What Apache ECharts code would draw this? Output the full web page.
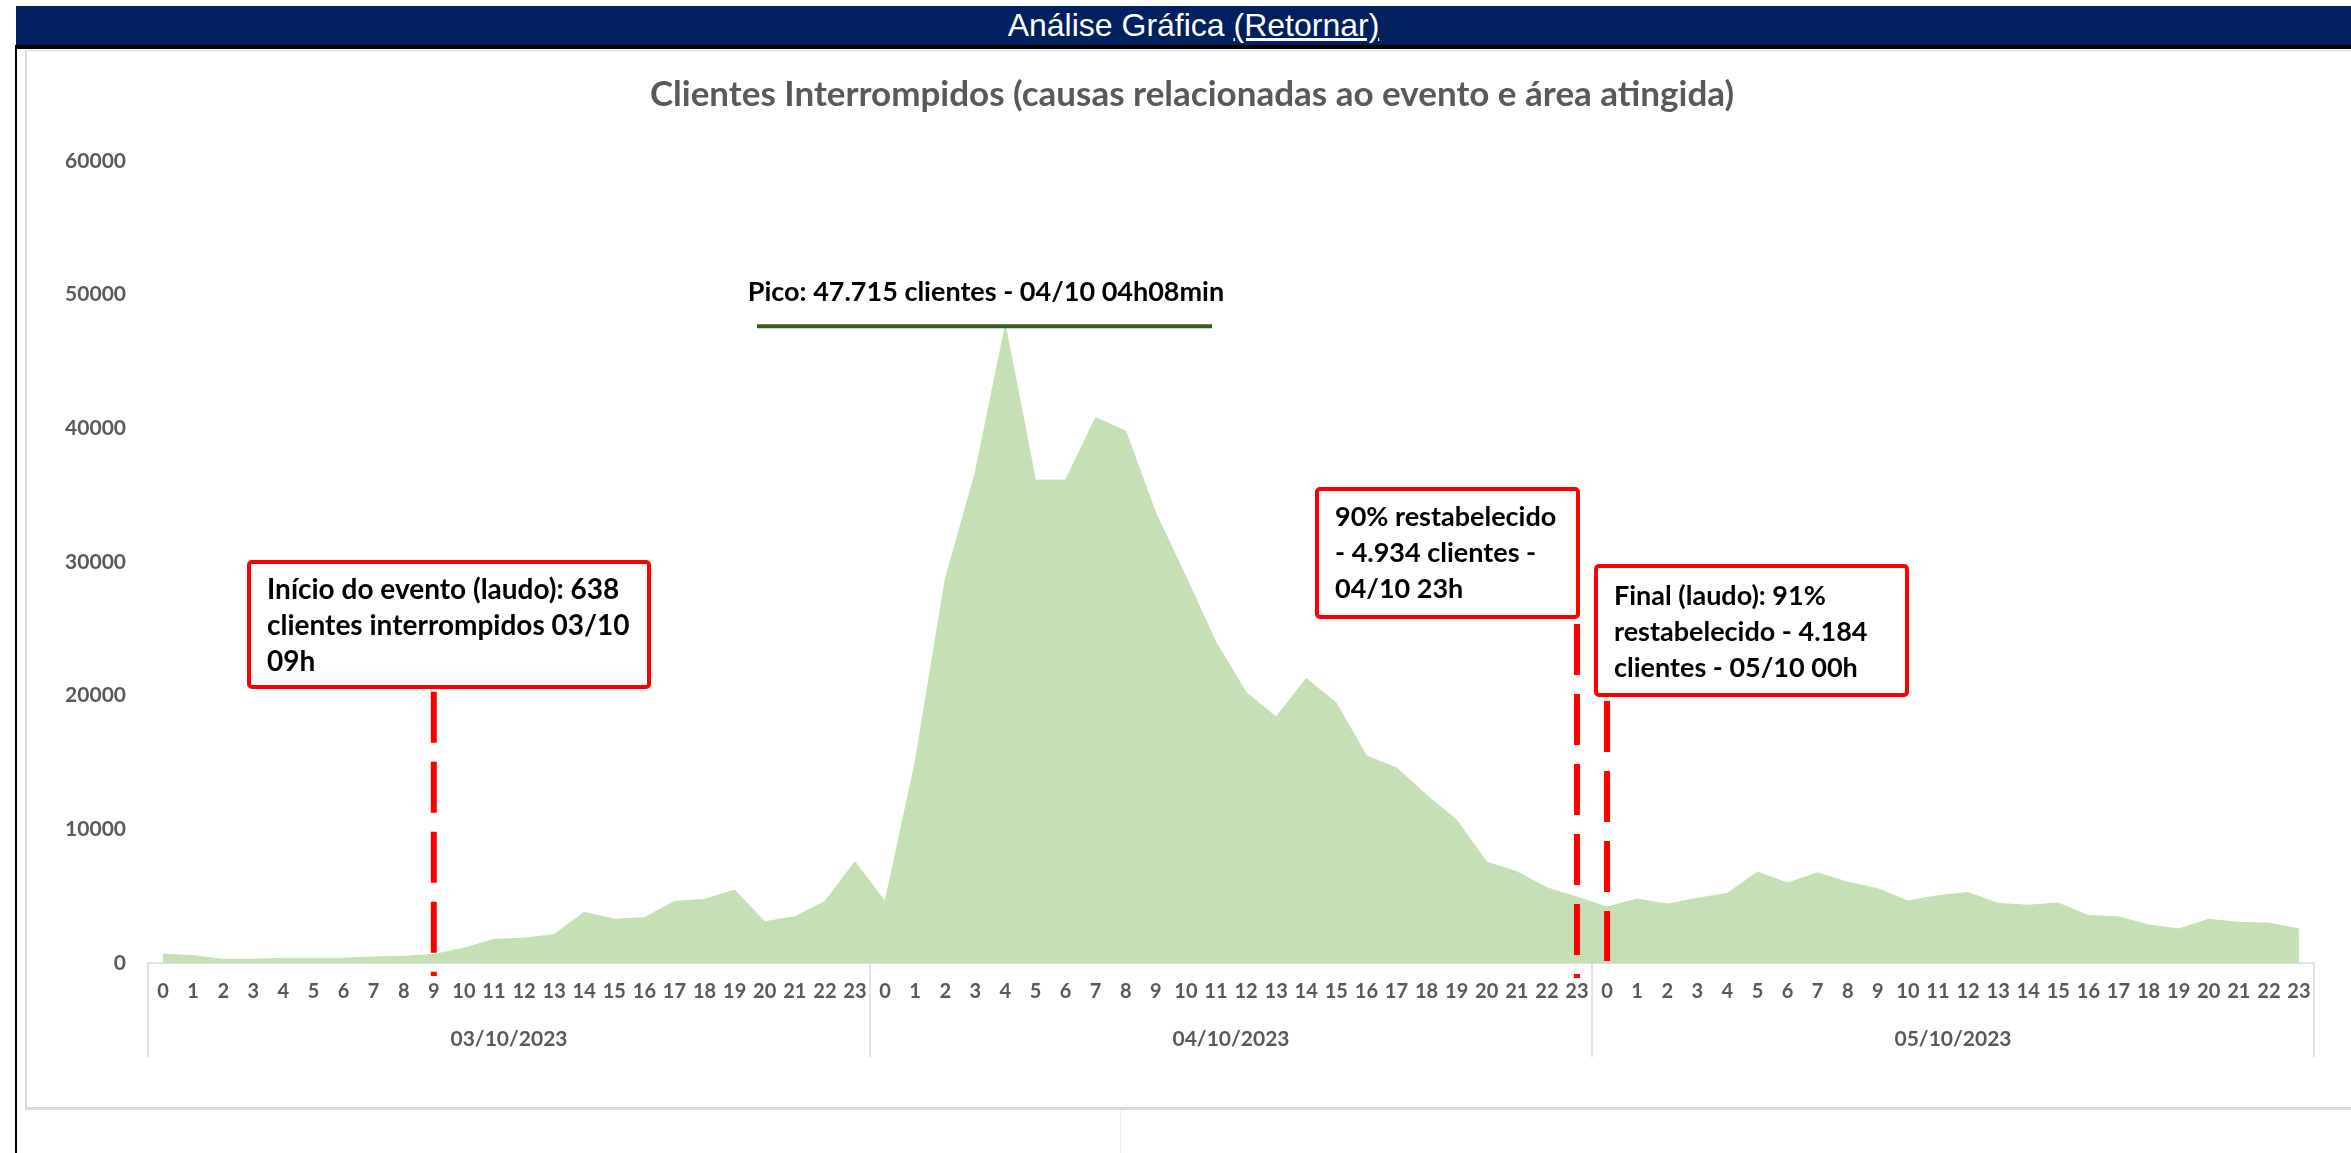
<!DOCTYPE html>
<html>
<head>
<meta charset="utf-8">
<script src="https://cdn.jsdelivr.net/npm/echarts@6/dist/echarts.min.js"></script>
<style>
html,body{margin:0;padding:0;width:2351px;height:1153px;overflow:hidden;background:#fff;}
#header{position:absolute;left:16px;top:6px;width:2335px;height:39px;background:#002060;color:#fff;
  font-family:"Liberation Sans",Arial,sans-serif;font-size:32px;line-height:39px;text-align:center;
  box-sizing:border-box;padding-left:20px;white-space:nowrap;}
#blackTop{position:absolute;left:15px;top:45px;width:2336px;height:4px;background:#000;}
#blackLeft{position:absolute;left:15px;top:45px;width:2px;height:1108px;background:#000;}
#panel{position:absolute;left:25px;top:50px;width:2340px;height:1056px;border-left:2px solid #d9d9d9;
  border-top:1px solid #d9d9d9;border-bottom:3px solid #d9d9d9;}
#faint{position:absolute;left:1120px;top:1110px;width:1px;height:43px;background:#eeeeee;}
#chart{position:absolute;left:0;top:0;width:2351px;height:1153px;}
</style>
</head>
<body>
<div id="header">Análise Gráfica <u>(Retornar)</u></div>
<div id="blackTop"></div>
<div id="blackLeft"></div>
<div id="panel"></div>
<div id="faint"></div>
<div id="chart"></div>
<script>
// ---- data ----
const hours = ['0','1','2','3','4','5','6','7','8','9','10','11','12','13','14','15','16','17','18','19','20','21','22','23'];
const dates = ['03/10/2023', '04/10/2023', '05/10/2023'];
const day1 = [670, 545, 275, 275, 350, 350, 350, 450, 500, 638, 1100, 1770, 1845, 2140, 3790, 3270, 3390, 4610, 4760, 5460, 3090, 3460, 4600, 7580];
const day2 = [4590, 15000, 28700, 36700, 47715, 36130, 36130, 40800, 39800, 33660, 28900, 24000, 20250, 18400, 21280, 19450, 15500, 14600, 12570, 10700, 7550, 6830, 5630, 4934];
const day3 = [4184, 4790, 4410, 4840, 5210, 6800, 5980, 6750, 6040, 5560, 4640, 5040, 5270, 4460, 4320, 4490, 3550, 3460, 2840, 2550, 3270, 3040, 2980, 2550];
const yMin = 0, yMax = 60000, yStep = 10000;
const peakValue = 47715;

const categories = [];
dates.forEach(d => hours.forEach(h => categories.push(d + '|' + h)));
const values = day1.concat(day2, day3);

const FONT = 'Lato, "Noto Sans", sans-serif';
const chart = echarts.init(document.getElementById('chart'), null, {renderer: 'canvas'});

const option = {
  animation: false,
  backgroundColor: 'transparent',
  textStyle: {fontFamily: FONT},
  grid: {left: 148, right: 37, top: 161, bottom: 190, containLabel: false, outerBoundsMode: 'none'},
  xAxis: [
    {
      type: 'category', data: categories, boundaryGap: true, position: 'bottom', offset: 0,
      axisLine: {show: true, lineStyle: {color: '#d9d9d9', width: 1.5}},
      axisTick: {show: false},
      splitLine: {show: false},
      axisLabel: {
        interval: 0, margin: 19, color: '#595959', fontWeight: 'bold', fontSize: 20, fontFamily: FONT,
        formatter: v => v.split('|')[1]
      }
    },
    {
      type: 'category', data: dates, boundaryGap: true, position: 'bottom', offset: 0,
      axisLine: {show: false},
      axisTick: {show: true, interval: 0, length: 94, lineStyle: {color: '#d9d9d9', width: 1.5}},
      splitLine: {show: false},
      axisLabel: {interval: 0, margin: 66, color: '#595959', fontWeight: 'bold', fontSize: 21, fontFamily: FONT}
    }
  ],
  yAxis: {
    type: 'value', min: yMin, max: yMax, interval: yStep,
    axisLine: {show: false}, axisTick: {show: false}, splitLine: {show: false},
    axisLabel: {margin: 22, color: '#595959', fontWeight: 'bold', fontSize: 21, fontFamily: FONT,
                formatter: v => String(v)}
  },
  series: [{
    type: 'line', xAxisIndex: 0, yAxisIndex: 0, data: values,
    symbol: 'none', showSymbol: false,
    lineStyle: {color: '#C5E0B4', width: 1},
    areaStyle: {color: '#C5E0B4', opacity: 1},
    emphasis: {disabled: true}
  }]
};
chart.setOption(option);

const peakY = chart.convertToPixel({yAxisIndex: 0}, peakValue);

// dashed red marker lines, placed through the axes
function dashed(cat, vTop, vBottom) {
  const p1 = chart.convertToPixel({xAxisIndex: 0, yAxisIndex: 0}, [cat, vTop]);
  const p2 = chart.convertToPixel({xAxisIndex: 0, yAxisIndex: 0}, [cat, vBottom]);
  return {type: 'line', z: 90, silent: true,
          shape: {x1: p1[0], y1: p1[1], x2: p2[0], y2: p2[1]},
          style: {stroke: '#FF0000', lineWidth: 6, lineDash: [51, 19], lineCap: 'butt'}};
}

function box(x, y, w, h, lines, tx, ty, fs) {
  return [
    {type: 'rect', z: 100, shape: {x: x, y: y, width: w, height: h, r: 3},
     style: {fill: '#fff', stroke: '#FF0000', lineWidth: 4}},
    {type: 'text', z: 101, x: tx, y: ty,
     style: {text: lines.join('\n'), fill: '#000', font: 'bold ' + fs + 'px ' + FONT, lineHeight: 36,
             textAlign: 'left', textVerticalAlign: 'top', align: 'left', verticalAlign: 'top'}}
  ];
}

const graphics = [
  {type: 'text', z: 100, x: 1192, y: 95,
   style: {text: 'Clientes Interrompidos (causas relacionadas ao evento e área atingida)',
           fill: '#595959', font: 'bold 35px ' + FONT,
           textAlign: 'center', textVerticalAlign: 'middle', align: 'center', verticalAlign: 'middle'}},
  {type: 'line', z: 100, shape: {x1: 757, y1: peakY + 1, x2: 1212, y2: peakY + 1},
   style: {stroke: '#3B5A23', lineWidth: 4}},
  {type: 'text', z: 100, x: 986, y: 292,
   style: {text: 'Pico: 47.715 clientes - 04/10 04h08min', fill: '#000', font: 'bold 27px ' + FONT,
           textAlign: 'center', textVerticalAlign: 'middle', align: 'center', verticalAlign: 'middle'}},
  dashed('03/10/2023|9', 20300, -970),
  dashed('04/10/2023|23', 25360, -1120),
  dashed('05/10/2023|0', 19600, 150)
].concat(
  box(249, 562, 400, 125, ['Início do evento (laudo): 638', 'clientes interrompidos 03/10', '09h'], 267, 572, 28),
  box(1317, 489, 261, 128, ['90% restabelecido', '- 4.934 clientes -', '04/10 23h'], 1335, 499, 27),
  box(1596, 566, 311, 129, ['Final (laudo): 91%', 'restabelecido - 4.184', 'clientes - 05/10 00h'], 1614, 578, 27)
);

chart.setOption({graphic: graphics});
</script>
</body>
</html>
